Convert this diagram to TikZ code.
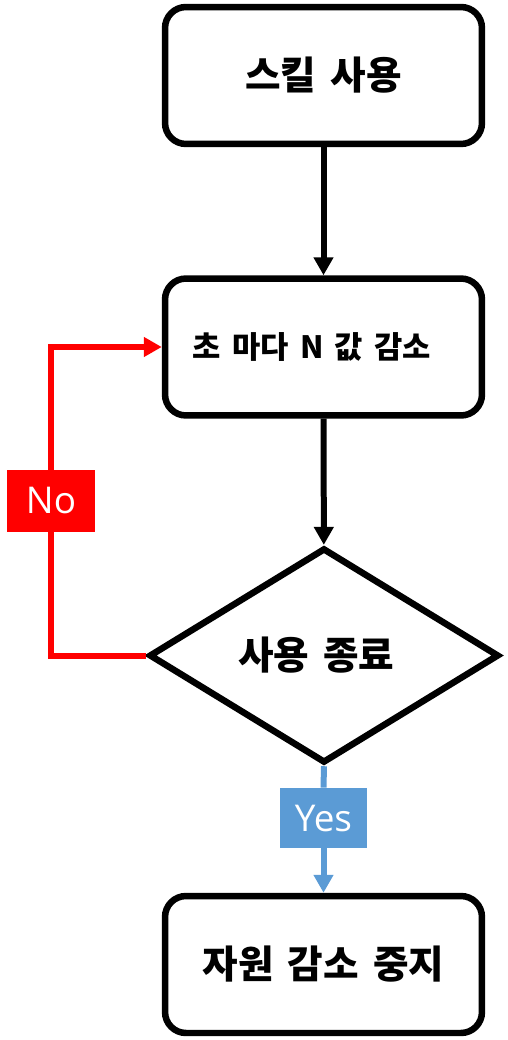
\documentclass[tikz,border=0pt]{standalone}
\usepackage{fontspec}
\setmainfont{Open Sans}
\newfontfamily\kr[WordSpace=1.6]{Noto Sans CJK KR}
\usetikzlibrary{shapes.geometric,arrows.meta}
\definecolor{yesblue}{HTML}{5B9BD5}
\tikzset{
	stepbox/.style={draw, line width=0.13cm, rounded corners=0.42cm, minimum width=6.34cm, minimum height=2.74cm, font=\kr\bfseries\fontsize{22}{26}\selectfont},
	decbox/.style={draw, diamond, line width=0.13cm, inner sep=0pt, minimum width=7.0cm, minimum height=4.3cm, font=\kr\bfseries\fontsize{22}{26}\selectfont},
	lbl/.style={inner sep=0pt, text=white, font=\fontsize{21}{25}\selectfont},
	flow/.style={line width=0.12cm, -{Triangle[length=0.36cm,width=0.38cm]}}
}
\begin{document}
\begin{tikzpicture}[x=0.02cm,y=-0.02cm]
		\useasboundingbox (0,0) rectangle (507,1040);
		\node[stepbox] (skill) at (323.5,75.5) {스킬 사용};
		\node[stepbox, font=\kr\bfseries\fontsize{17.5}{21}\selectfont] (decr) at (323.5,347) {초 마다 N 값 감소\kern0.75em};
		\node[decbox] (dec) at (324,655.5) {\makebox[0pt]{사용 종료\kern0.4em}};
		\node[stepbox] (stop) at (323.5,964.5) {자원 감소 중지};
		\node[lbl, fill=red, minimum width=1.76cm, minimum height=1.24cm] (nolbl) at (51,501) {No};
		\node[lbl, fill=yesblue, minimum width=1.74cm, minimum height=1.2cm] (yeslbl) at (323.5,818) {Yes};
		\draw[flow] (skill) -- (decr);
		\draw[flow] (decr) -- (dec);
		\draw[red, line width=0.12cm] (dec.west) -| (nolbl.south);
		\draw[red, flow] (nolbl.north) |- (decr.west);
		\draw[yesblue, line width=0.12cm] (dec.south) -- (yeslbl.north);
		\draw[yesblue, flow] (yeslbl.south) -- (stop.north);
	\end{tikzpicture}
\end{document}
